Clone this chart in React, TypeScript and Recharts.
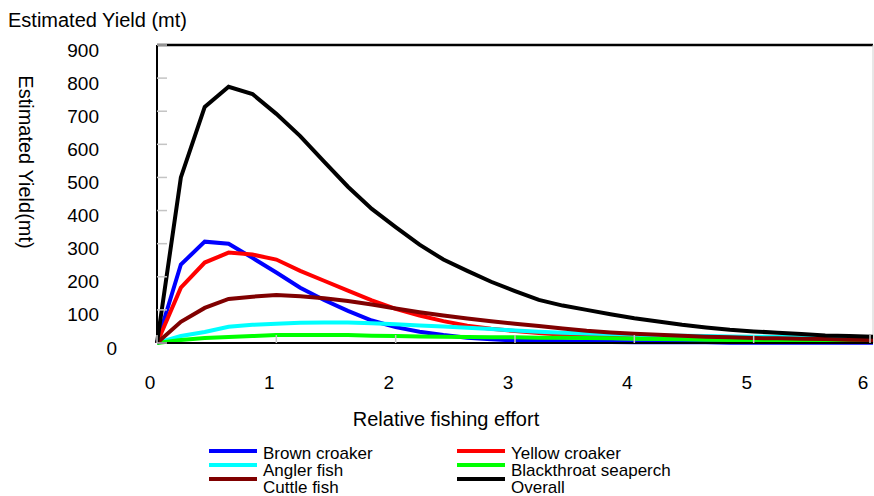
import { LineChart, Line, XAxis, YAxis, ReferenceLine } from "recharts";

const effort = [0, 0.2, 0.4, 0.6, 0.8, 1, 1.2, 1.4, 1.6, 1.8, 2, 2.2, 2.4, 2.6, 2.8, 3, 3.2, 3.4, 3.6, 3.8, 4, 4.2, 4.4, 4.6, 4.8, 5, 5.2, 5.4, 5.6, 5.8, 6];

const brownCroaker = [0, 237, 306, 300, 257, 213, 167, 130, 97, 68, 48, 34, 24, 16, 11, 8, 6, 5, 4, 3, 2, 2, 2, 2, 1, 1, 1, 1, 1, 1, 1];
const yellowCroaker = [0, 167, 243, 273, 267, 252, 218, 188, 158, 129, 103, 83, 66, 52, 43, 36, 30, 25, 22, 19, 17, 15, 13, 12, 11, 10, 9, 8, 7, 6, 6];
const anglerFish = [0, 21, 33, 49, 55, 58, 61, 62, 62, 60, 57, 53, 50, 46, 42, 38, 34, 31, 29, 27, 25, 23, 22, 21, 20, 19, 18, 18, 17, 17, 16];
const blackthroat = [0, 9, 15, 18, 21, 24, 24, 24, 24, 22, 21, 20, 19, 18, 17, 17, 16, 16, 15, 14, 13, 12, 11, 10, 9, 8, 7, 6, 6, 5, 4];
const cuttleFish = [0, 64, 106, 133, 140, 145, 141, 135, 127, 116, 104, 93, 83, 74, 66, 58, 51, 44, 37, 32, 28, 25, 22, 19, 17, 15, 14, 13, 12, 10, 9];
const overall = [0, 500, 713, 774, 752, 692, 625, 548, 472, 405, 350, 297, 252, 218, 185, 157, 130, 113, 100, 87, 75, 65, 55, 47, 40, 35, 31, 27, 23, 21, 19];

const yTicks = [0, 100, 200, 300, 400, 500, 600, 700, 800, 900];
const xTicks = [0, 1, 2, 3, 4, 5, 6];

const series = [
  { key: "brown", name: "Brown croaker", color: "#0000ff", values: brownCroaker },
  { key: "yellow", name: "Yellow croaker", color: "#ff0000", values: yellowCroaker },
  { key: "angler", name: "Angler fish", color: "#00ffff", values: anglerFish },
  { key: "blackthroat", name: "Blackthroat seaperch", color: "#00ff00", values: blackthroat },
  { key: "cuttle", name: "Cuttle fish", color: "#800000", values: cuttleFish },
  { key: "overall", name: "Overall", color: "#000000", values: overall },
];

const data = effort.map((e, i) => {
  const row: any = { effort: e };
  series.forEach((s) => (row[s.key] = s.values[i]));
  return row;
});

const FONT = '"Liberation Sans", Arial, sans-serif';

const YTick = ({ y, payload }: any) => (
  <g>
    <line x1={157} x2={167} y1={y} y2={y} stroke="#c4c4c4" strokeWidth={1.5} />
    <text
      x={payload.value === 0 ? 117 : 99}
      y={y + 5}
      textAnchor="end"
      dominantBaseline="central"
      fontSize={19}
      fontFamily={FONT}
      fill="#000"
    >
      {payload.value}
    </text>
  </g>
);

const XTick = ({ x, payload }: any) => (
  <g>
    <line x1={x} x2={x} y1={343} y2={335} stroke="#c4c4c4" strokeWidth={1.5} />
    <text
      x={x - 7}
      y={382}
      textAnchor="middle"
      dominantBaseline="central"
      fontSize={19}
      fontFamily={FONT}
      fill="#000"
    >
      {payload.value}
    </text>
  </g>
);

export default function App() {
  const legendCols = [209, 457];
  const lineRows = [451, 465, 479];
  const textRows = [459, 476, 493];

  return (
    <div style={{ position: "absolute", left: 0, top: 0, width: 874, height: 496, background: "#fff" }}>
      <LineChart
        width={874}
        height={496}
        data={data}
        margin={{ top: 45, right: 1, left: 97, bottom: 123 }}
      >
        <XAxis
          dataKey="effort"
          type="number"
          domain={[0, 6]}
          ticks={xTicks}
          height={30}
          axisLine={{ stroke: "#000", strokeWidth: 2 }}
          tickLine={false}
          tick={<XTick />}
        />
        <YAxis
          type="number"
          domain={[0, 900]}
          ticks={yTicks}
          width={60}
          axisLine={{ stroke: "#000", strokeWidth: 2 }}
          tickLine={false}
          tick={<YTick />}
        />
        <ReferenceLine y={900} stroke="#000" strokeWidth={2.5} />
        <ReferenceLine x={6} stroke="#d0d0d0" strokeWidth={1} />
        {series.map((s) => (
          <Line
            key={s.key}
            type="linear"
            dataKey={s.key}
            name={s.name}
            stroke={s.color}
            strokeWidth={4}
            dot={false}
            isAnimationActive={false}
          />
        ))}
      </LineChart>

      <svg
        width={874}
        height={496}
        style={{ position: "absolute", left: 0, top: 0, pointerEvents: "none" }}
        fontFamily={FONT}
      >
        <text x={8} y={27} fontSize={20} fill="#000">
          Estimated Yield (mt)
        </text>
        <text
          transform="translate(26,162) rotate(90)"
          textAnchor="middle"
          dominantBaseline="central"
          fontSize={20}
          fill="#000"
        >
          Estimated Yield(mt)
        </text>
        <text x={446} y={426} textAnchor="middle" fontSize={20} fill="#000">
          Relative fishing effort
        </text>
        {series.map((s, i) => {
          const col = i % 2;
          const row = Math.floor(i / 2);
          const x0 = legendCols[col];
          return (
            <g key={s.key}>
              <line x1={x0} x2={x0 + 48} y1={lineRows[row]} y2={lineRows[row]} stroke={s.color} strokeWidth={4} />
              <text x={x0 + 54} y={textRows[row]} fontSize={17} fill="#000">
                {s.name}
              </text>
            </g>
          );
        })}
      </svg>
    </div>
  );
}
